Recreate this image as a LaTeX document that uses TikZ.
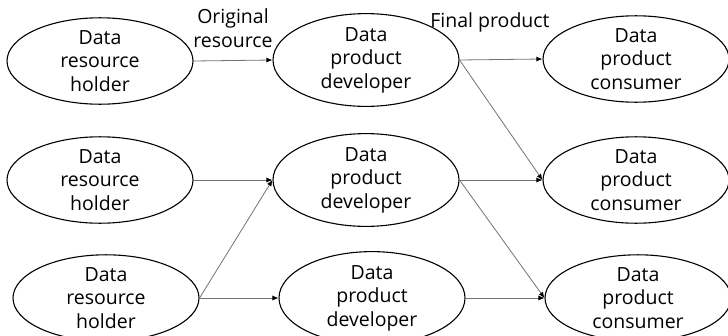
\documentclass[tikz,border=0pt]{standalone}
\usepackage{fontspec}
\setmainfont{Open Sans}
\usetikzlibrary{shapes.geometric,arrows.meta}
\begin{document}
\begin{tikzpicture}[x=1pt,y=-1pt,
  role/.style={draw=black,line width=1.1pt,ellipse,minimum width=186pt,minimum height=78pt,
    inner sep=0pt,align=center,font=\fontsize{19.5}{23.5}\selectfont},
  flow/.style={draw=black!55,line width=0.8pt,-{Latex[black,length=6pt,width=5pt]}},
  lbl/.style={align=center,inner sep=0pt,font=\fontsize{19.5}{23.5}\selectfont}]
\useasboundingbox (0,0) rectangle (728,335);
% holders, developers, consumers
\node[role] (L1) at (100,61) {Data\\resource\\holder};
\node[role] (M1) at (366,60) {Data\\product\\developer};
\node[role] (R1) at (636,59) {Data\\product\\consumer};
\node[role] (L2) at (100,180) {Data\\resource\\holder};
\node[role] (M2) at (366,180) {Data\\product\\developer};
\node[role] (R2) at (636,180) {Data\\product\\consumer};
\node[role] (L3) at (106,298) {Data\\resource\\holder};
\node[role] (M3) at (372,298) {Data\\product\\developer};
\node[role] (R3) at (638,298) {Data\\product\\consumer};
% edge labels
\node[lbl] (orig) at (233,28) {Original\\resource};
\node[lbl] (fin) at (490,22) {Final product};
% flows
\draw[flow] (L1.east) -- (M1.west);
\draw[flow] (M1.east) -- (R1.west);
\draw[flow] (M1.east) -- (R2.west);
\draw[flow] (L2.east) -- (M2.west);
\draw[flow] (M2.east) -- (R2.west);
\draw[flow] (M2.east) -- (R3.west);
\draw[flow] (L3.east) -- (M2.west);
\draw[flow] (L3.east) -- (M3.west);
\draw[flow] (M3.east) -- (R3.west);
\end{tikzpicture}
\end{document}
